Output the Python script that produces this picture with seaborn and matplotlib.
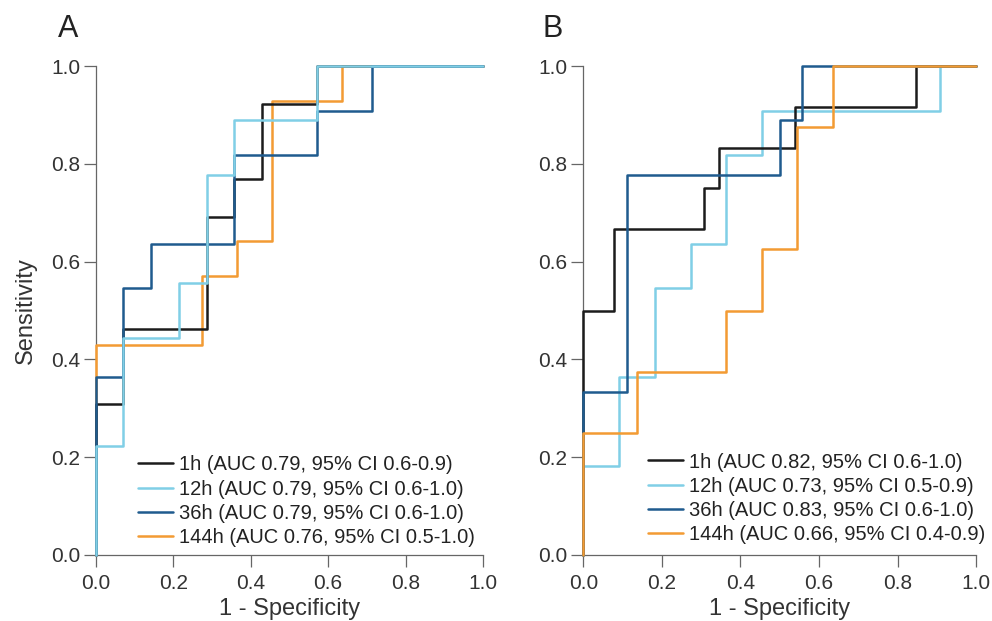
import matplotlib
matplotlib.use("Agg")
import matplotlib.pyplot as plt
import pandas as pd
import seaborn as sns

# ROC step vertices (1 - specificity, sensitivity)
TIMES = ["1h", "12h", "36h", "144h"]
COLORS = {"1h": "#1c1c1c", "12h": "#80cfe6", "36h": "#1f5b8e", "144h": "#f39b33"}

A_FPR_1H = [0, 0, 0.071, 0.286, 0.357, 0.429, 0.571, 1.0]
A_TPR_1H = [0, 0.308, 0.462, 0.692, 0.769, 0.923, 1.0, 1.0]
A_FPR_12H = [0, 0, 0.071, 0.214, 0.286, 0.357, 0.571, 1.0]
A_TPR_12H = [0, 0.222, 0.444, 0.556, 0.778, 0.889, 1.0, 1.0]
A_FPR_36H = [0, 0, 0.071, 0.143, 0.357, 0.571, 0.714, 1.0]
A_TPR_36H = [0, 0.364, 0.545, 0.636, 0.818, 0.909, 1.0, 1.0]
A_FPR_144H = [0, 0, 0.273, 0.364, 0.455, 0.636, 1.0]
A_TPR_144H = [0, 0.429, 0.571, 0.643, 0.929, 1.0, 1.0]

B_FPR_1H = [0, 0, 0.077, 0.308, 0.346, 0.538, 0.846, 1.0]
B_TPR_1H = [0, 0.5, 0.667, 0.75, 0.833, 0.917, 1.0, 1.0]
B_FPR_12H = [0, 0, 0.091, 0.182, 0.273, 0.364, 0.455, 0.909, 1.0]
B_TPR_12H = [0, 0.182, 0.364, 0.545, 0.636, 0.818, 0.909, 1.0, 1.0]
B_FPR_36H = [0, 0, 0.111, 0.5, 0.556, 1.0]
B_TPR_36H = [0, 0.333, 0.778, 0.889, 1.0, 1.0]
B_FPR_144H = [0, 0, 0.136, 0.364, 0.455, 0.545, 0.636, 1.0]
B_TPR_144H = [0, 0.25, 0.375, 0.5, 0.625, 0.875, 1.0, 1.0]

A_LABELS = {
    "1h": "1h (AUC 0.79, 95% CI 0.6-0.9)",
    "12h": "12h (AUC 0.79, 95% CI 0.6-1.0)",
    "36h": "36h (AUC 0.79, 95% CI 0.6-1.0)",
    "144h": "144h (AUC 0.76, 95% CI 0.5-1.0)",
}
B_LABELS = {
    "1h": "1h (AUC 0.82, 95% CI 0.6-1.0)",
    "12h": "12h (AUC 0.73, 95% CI 0.5-0.9)",
    "36h": "36h (AUC 0.83, 95% CI 0.6-1.0)",
    "144h": "144h (AUC 0.66, 95% CI 0.4-0.9)",
}

TICKS = [0.0, 0.2, 0.4, 0.6, 0.8, 1.0]


def build_frame(curves):
    frames = []
    for time, (fpr, tpr) in curves.items():
        frames.append(pd.DataFrame({"time": time, "fpr": fpr, "tpr": tpr}))
    return pd.concat(frames, ignore_index=True)


def draw_panel(ax, df, labels, draw_order, letter, letter_x, legend_anchor, show_ylabel):
    for time in draw_order:
        sub = df[df["time"] == time]
        sns.lineplot(
            data=sub, x="fpr", y="tpr", ax=ax, color=COLORS[time],
            label=labels[time], estimator=None, sort=False,
            drawstyle="steps-post", linewidth=1.8, clip_on=False, zorder=3,
        )

    ax.set_xlim(0, 1)
    ax.set_ylim(0, 1)
    ax.set_xticks(TICKS)
    ax.set_yticks(TICKS)
    ax.set_xticklabels([f"{t:.1f}" for t in TICKS])
    ax.set_yticklabels([f"{t:.1f}" for t in TICKS])
    ax.tick_params(bottom=True, left=True, direction="out", length=8.5,
                   width=0.9, color="#666666", labelsize=15,
                   labelcolor="#333333", pad=3)
    ax.tick_params(axis="x", pad=5)
    for side in ["top", "right"]:
        ax.spines[side].set_visible(False)
    for side in ["left", "bottom"]:
        ax.spines[side].set_color("#666666")
        ax.spines[side].set_linewidth(0.9)

    ax.set_xlabel("1 - Specificity", fontsize=17, color="#333333", labelpad=3.5)
    if show_ylabel:
        ax.set_ylabel("Sensitivity", fontsize=17, color="#333333", labelpad=10)
    else:
        ax.set_ylabel("")

    handles, texts = ax.get_legend_handles_labels()
    lookup = dict(zip(texts, handles))
    ordered = [lookup[labels[t]] for t in TIMES]
    ax.legend(ordered, [labels[t] for t in TIMES], loc="lower left",
              bbox_to_anchor=legend_anchor, frameon=False, fontsize=14.5,
              handlelength=1.75, handletextpad=0.3, labelspacing=0.26,
              borderpad=0, borderaxespad=0, labelcolor="#222222")

    ax.text(letter_x, 1.059, letter, transform=ax.transAxes, fontsize=22,
            color="#222222", ha="center", va="baseline")


def main():
    sns.set_theme(style="white")
    plt.rcParams["font.family"] = ["Liberation Sans", "DejaVu Sans"]

    df_a = build_frame({
        "1h": (A_FPR_1H, A_TPR_1H),
        "12h": (A_FPR_12H, A_TPR_12H),
        "36h": (A_FPR_36H, A_TPR_36H),
        "144h": (A_FPR_144H, A_TPR_144H),
    })
    df_b = build_frame({
        "1h": (B_FPR_1H, B_TPR_1H),
        "12h": (B_FPR_12H, B_TPR_12H),
        "36h": (B_FPR_36H, B_TPR_36H),
        "144h": (B_FPR_144H, B_TPR_144H),
    })

    fig = plt.figure(figsize=(9.92, 6.21), dpi=100)
    ax_a = fig.add_axes([0.0968, 0.1063, 0.3900, 0.7874])
    ax_b = fig.add_axes([0.5880, 0.1063, 0.3960, 0.7874])

    draw_panel(ax_a, df_a, A_LABELS, ["144h", "1h", "36h", "12h"], "A", -0.072,
               (0.109, 0.016), True)
    draw_panel(ax_b, df_b, B_LABELS, ["12h", "1h", "36h", "144h"], "B", -0.077,
               (0.165, 0.022), False)

    fig.savefig("out.png", dpi=100)
    plt.close(fig)


if __name__ == "__main__":
    main()
